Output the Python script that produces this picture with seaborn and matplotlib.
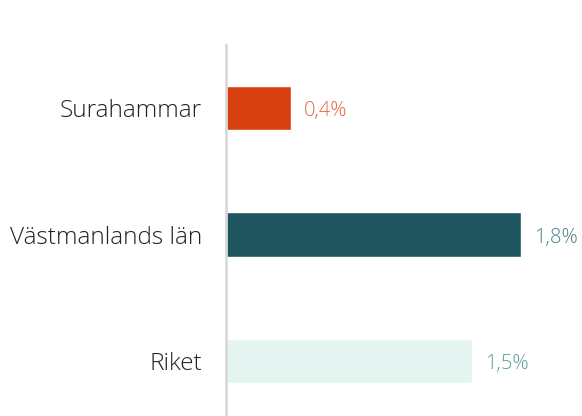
import matplotlib
matplotlib.use("Agg")
import matplotlib.pyplot as plt
import seaborn as sns
import pandas as pd

categories = ["Surahammar", "Västmanlands län", "Riket"]
values = [0.4, 1.8, 1.5]
value_labels = ["0,4%", "1,8%", "1,5%"]
bar_colors = ["#D9400F", "#1F555E", "#E4F4F0"]
label_colors = ["#E5643A", "#4F8088", "#5E9C96"]

sns.set_theme(style="white")
plt.rcParams['font.family'] = ['Open Sans', 'DejaVu Sans']

df = pd.DataFrame({"cat": categories, "val": values})

x0 = 225.5
fig = plt.figure(figsize=(5.82, 4.16), dpi=100)
ax = fig.add_axes([x0 / 582, 0, 1 - x0 / 582, 1 - 45 / 416])
sns.barplot(data=df, y="cat", x="val", hue="cat", palette=bar_colors,
            orient="h", width=0.35, legend=False, ax=ax, saturation=1)
ax.set_xlim(0, (582 - x0 - 1) / 163.9)
ax.set_ylim(2.435, -0.5)
ax.set_xlabel("")
ax.set_ylabel("")
ax.set_xticks([])
for s in ["top", "right", "bottom"]:
    ax.spines[s].set_visible(False)
ax.spines["left"].set_color("#D9D9D9")
ax.spines["left"].set_linewidth(2)
ax.tick_params(axis="y", length=0, pad=17)
for t in ax.get_yticklabels():
    t.set_fontsize(17.6)
    t.set_color("#222222")
    t.set_fontweight(300)

for i, (v, lab, c) in enumerate(zip(values, value_labels, label_colors)):
    ax.annotate(lab, xy=(v, i), xytext=(13, -3), textcoords="offset pixels",
                va="center", ha="left", fontsize=14.5, color=c, fontweight=300)

fig.savefig("out.png", dpi=100)
